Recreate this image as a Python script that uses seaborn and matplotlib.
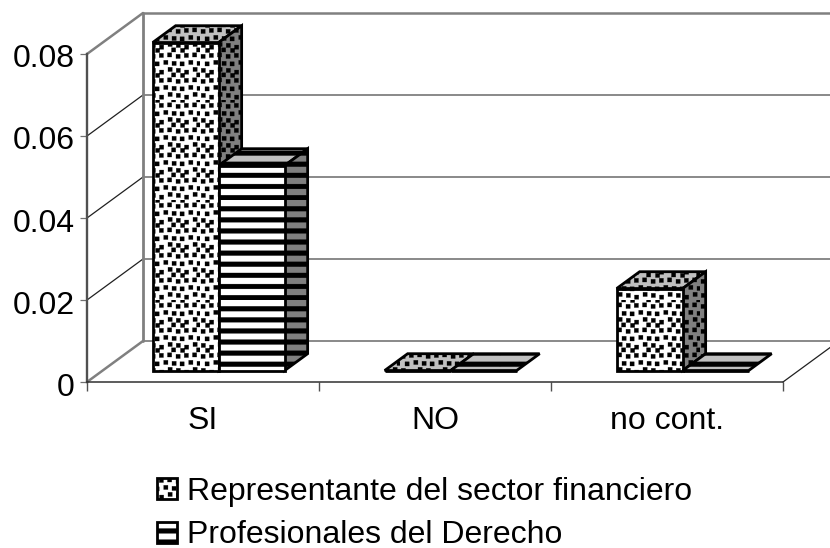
#!/usr/bin/env python3
# -*- coding: utf-8 -*-
import numpy as np
import pandas as pd
import matplotlib
matplotlib.use('Agg')
import matplotlib.pyplot as plt
import matplotlib.hatch as mhatch
from matplotlib.patches import Polygon
from matplotlib.path import Path
from matplotlib.transforms import ScaledTranslation
import seaborn as sns

categorias = ['SI', 'NO', 'no cont.']
representante = [0.08, 0.0, 0.02]
profesionales = [0.05, 0.0, 0.0]
grupos = ['Representante del sector financiero', 'Profesionales del Derecho']
y_ticks = [0, 0.02, 0.04, 0.06, 0.08]
y_labels = ['0', '0.02', '0.04', '0.06', '0.08']


# --- hatch patterns, Excel style: square confetti and thick bands ---
def _rects(vertices, codes, rects):
    for i, (x0, y0, x1, y1) in enumerate(rects):
        vertices[i*5:(i+1)*5] = [(x0, y0), (x1, y0), (x1, y1), (x0, y1), (x0, y0)]
        codes[i*5:(i+1)*5] = [Path.MOVETO, Path.LINETO, Path.LINETO, Path.LINETO, Path.CLOSEPOLY]


class SquareDots(mhatch.HatchPatternBase):
    seeds = [(0.05, 0.10), (0.38, 0.03), (0.72, 0.14), (0.20, 0.36), (0.55, 0.42),
             (0.88, 0.38), (0.04, 0.66), (0.37, 0.70), (0.70, 0.72), (0.22, 0.90), (0.86, 0.92)]
    repeat = 4
    size = 0.042

    def __init__(self, hatch, density):
        self.on = '.' in hatch
        self.num_vertices = len(self.seeds)*self.repeat**2*5 if self.on else 0

    def set_vertices_and_codes(self, vertices, codes):
        rects = []
        for i in range(self.repeat):
            for j in range(self.repeat):
                for sx, sy in self.seeds:
                    x = (i + sx)/self.repeat
                    y = (j + sy)/self.repeat
                    rects.append((x, y, x + self.size, y + self.size))
        _rects(vertices, codes, rects)


class Bands(mhatch.HatchPatternBase):
    n_bands = 9
    thick = 0.048

    def __init__(self, hatch, density):
        self.on = '-' in hatch
        self.num_vertices = self.n_bands*5 if self.on else 0

    def set_vertices_and_codes(self, vertices, codes):
        rects = [(0, i/self.n_bands, 1, i/self.n_bands + self.thick) for i in range(self.n_bands)]
        _rects(vertices, codes, rects)


mhatch._hatch_types = [SquareDots, Bands]

sns.set_theme(style='white')
plt.rcParams['font.family'] = ['Liberation Sans', 'DejaVu Sans']
plt.rcParams['hatch.linewidth'] = 0.2
plt.rcParams['hatch.color'] = 'black'

W, H = 830, 548
fig = plt.figure(figsize=(W/100, H/100), dpi=100)
# front plane of the 3D box
left, right, top, bottom = 87, 783, 54, 382
ax = fig.add_axes([left/W, 1 - bottom/H, (right-left)/W, (bottom-top)/H])

df = pd.DataFrame({
    'categoria': categorias*2,
    'valor': representante + profesionales,
    'grupo': [grupos[0]]*3 + [grupos[1]]*3,
})
sns.barplot(data=df, x='categoria', y='valor', hue='grupo', order=categorias, hue_order=grupos,
            palette=['white', 'white'], saturation=1, width=132/232, gap=0, errorbar=None,
            edgecolor='black', linewidth=2, ax=ax, legend=False, zorder=5)
ax.set_xlim(-0.5, 2.5)
ax.set_ylim(0, 0.08)

# depth of the box in data units
DX = 56/232
DY = 0.01
B0 = 0.28   # where the bars start inside the box
B1 = 0.41   # how deep the bars are


def proj(x, y, d):
    return x + d*DX, y + d*DY


# --- walls ---
wall_grey = '#808080'
x_left, x_right = ax.get_xlim()
for t in y_ticks:
    is_edge = t in (0, 0.08)
    ax.plot([x_left, proj(x_left, t, 1)[0]], [t, proj(x_left, t, 1)[1]], clip_on=False,
            color=wall_grey if is_edge else '#202020', lw=1.8 if is_edge else 0.9, zorder=1)
    ax.plot([proj(x_left, t, 1)[0], proj(x_right, t, 1)[0]], [t + DY]*2, clip_on=False,
            color=wall_grey, lw=1.8 if t == 0.08 else 1.3, zorder=1)
ax.plot([proj(x_left, 0, 1)[0]]*2, [DY, 0.08 + DY], clip_on=False, color=wall_grey, lw=2, zorder=1)
ax.plot([x_right, proj(x_right, 0, 1)[0]], [0, DY], clip_on=False, color='#202020', lw=0.9, zorder=1)

# --- bars: move the fronts back into the box and add top and side faces ---
hatches = ['.', '-']
zo = 5
for cat in range(len(categorias)):
    for k, cont in enumerate(ax.containers):
        bar = cont[cat]
        x0, w, h = bar.get_x(), bar.get_width(), bar.get_height()
        fx, fy = proj(x0, 0, B0)
        bx, by = proj(x0, 0, B1)
        bar.set_x(fx)
        bar.set_y(fy)
        bar.set_hatch(hatches[k])
        bar.set_clip_on(False)
        bar.set_zorder(zo + 2)
        bar.set_linewidth(2)
        top_face = [(fx, fy+h), (fx+w, fy+h), (fx+w+bx-x0, fy+h+by), (fx+bx-x0, fy+h+by)]
        side_face = [(fx+w, fy), (fx+w+bx-x0, fy+by), (fx+w+bx-x0, fy+h+by), (fx+w, fy+h)]
        ax.add_patch(Polygon(top_face, closed=True, facecolor='#c0c0c0', edgecolor='black', lw=2,
                             hatch=hatches[k], clip_on=False, zorder=zo + 1))
        if h > 0:
            ax.add_patch(Polygon(side_face, closed=True, facecolor='#808080', edgecolor='black', lw=2,
                                 hatch=hatches[k], clip_on=False, zorder=zo + 1))
        zo += 3

# --- axes ---
for s in ['top', 'right']:
    ax.spines[s].set_visible(False)
ax.spines['left'].set_color('#505050')
ax.spines['left'].set_linewidth(1.7)
ax.spines['bottom'].set_color('#303030')
ax.spines['bottom'].set_linewidth(1.1)
ax.spines['left'].set_zorder(2)
ax.spines['bottom'].set_zorder(2)

ax.set_xlabel('')
ax.set_ylabel('')
ax.set_yticks(y_ticks, y_labels, fontsize=23, color='black')
ax.tick_params(axis='y', length=5, width=0.9, color='#707070', pad=4, left=True)
for lab in ax.get_yticklabels():
    lab.set_transform(lab.get_transform() + ScaledTranslation(0, -0.02, fig.dpi_scale_trans))
boundaries = np.arange(len(categorias) + 1) - 0.5
ax.set_xticks(boundaries, [''] * len(boundaries))
ax.tick_params(axis='x', which='major', length=6.5, width=1.0, color='#505050', bottom=True)
ax.set_xticks(np.arange(len(categorias)), categorias, minor=True, fontsize=23, color='black')
ax.tick_params(axis='x', which='minor', length=0, pad=17, bottom=False)

handles = [cont[0] for cont in ax.containers]
fig.legend(handles, grupos, loc='upper left', bbox_to_anchor=(157/W, 1 - 477/H), frameon=False,
           fontsize=23, labelcolor='black', handlelength=0.64, handleheight=0.64, handletextpad=0.29,
           labelspacing=0.42, borderpad=0, borderaxespad=0)

fig.savefig('out.png', dpi=100)
